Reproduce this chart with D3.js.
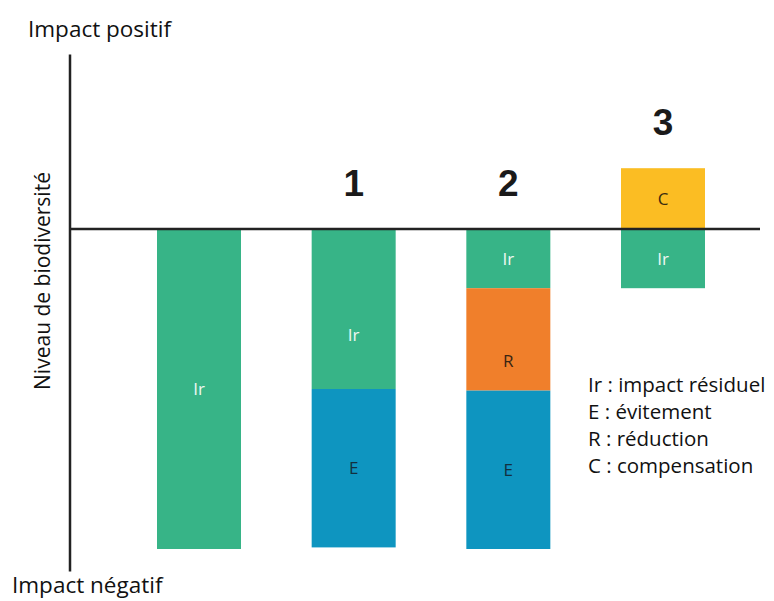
<!DOCTYPE html>
<html>
<head>
<meta charset="utf-8">
<script src="https://cdn.jsdelivr.net/npm/d3@7"></script>
<style>
  body { margin: 0; background: #fff; }
  svg text { font-family: "Open Sans", sans-serif; }
</style>
</head>
<body>
<div id="graphArea"></div>
<script>
// scenarios (0 = no measures, then 1, 2, 3)
var scenarios = ["0", "1", "2", "3"];
var scenarioLabels = ["", "1", "2", "3"];

// impact per component, in arbitrary units (negative = loss of biodiversity)
var irValues = [-10, -5, -1.85, -1.85];
var rValues  = [0, 0, -3.2, 0];
var eValues  = [0, -4.95, -4.95, 0];
var cValues  = [0, 0, 0, 1.9];

var keys = ["Ir", "R", "E", "C"];
var colors = { Ir: "#37b487", R: "#f07f2b", E: "#0e95c0", C: "#fbbd23" };
var textColors = { Ir: "#eef8f2", R: "#3a2412", E: "#13303f", C: "#3a2a10" };

var legendLines = ["Ir : impact résiduel", "E : évitement", "R : réduction", "C : compensation"];

var data = scenarios.map(function(s, i) {
  return { scenario: s, Ir: irValues[i], R: rValues[i], E: eValues[i], C: cValues[i] };
});

var width = 774, height = 601;

d3.select("#graphArea").html("");
var svg = d3.select("#graphArea")
  .append("svg")
    .attr("width", width)
    .attr("height", height);

var x = d3.scalePoint()
  .domain(scenarios)
  .range([199, 663]);
var barWidth = 84;

var y = d3.scaleLinear()
  .domain([-10, 0])
  .range([549, 229]);

var series = d3.stack()
  .keys(keys)
  .offset(d3.stackOffsetDiverging)(data);

// bars
svg.append("g")
  .selectAll("g")
  .data(series)
  .enter()
  .append("g")
    .attr("fill", function(d) { return colors[d.key]; })
  .selectAll("rect")
  .data(function(d) { return d; })
  .enter()
  .append("rect")
    .attr("x", function(d) { return x(d.data.scenario) - barWidth / 2; })
    .attr("y", function(d) { return y(Math.max(d[0], d[1])); })
    .attr("width", barWidth)
    .attr("height", function(d) { return Math.abs(y(d[0]) - y(d[1])); });

// segment labels
var labelNudge = { "1-Ir": 26, "2-R": 22 };
series.forEach(function(s) {
  s.forEach(function(d) {
    if (d[1] - d[0] === 0) return;
    var nudge = labelNudge[d.data.scenario + "-" + s.key] || 0;
    svg.append("text")
      .attr("x", x(d.data.scenario))
      .attr("y", (y(d[0]) + y(d[1])) / 2 + nudge)
      .attr("dy", "0.35em")
      .attr("text-anchor", "middle")
      .attr("fill", textColors[s.key])
      .style("font-size", "17px")
      .text(s.key);
  });
});

// axes
svg.append("line")
  .attr("x1", 70).attr("x2", 70)
  .attr("y1", y(5.45)).attr("y2", y(-10.7))
  .attr("stroke", "#222").attr("stroke-width", 2.5);
svg.append("line")
  .attr("x1", 70).attr("x2", 760)
  .attr("y1", y(0)).attr("y2", y(0))
  .attr("stroke", "#222").attr("stroke-width", 2.5);

// scenario numbers above the bars
var tops = data.map(function(d) { return Math.max(0, d.C); });
svg.selectAll("text.num")
  .data(data)
  .enter()
  .append("text")
    .attr("class", "num")
    .attr("x", function(d) { return x(d.scenario); })
    .attr("y", function(d, i) { return y(tops[i]) - 33; })
    .attr("text-anchor", "middle")
    .attr("fill", "#1a1a1a")
    .style("font-family", "'Liberation Sans', Arial, sans-serif")
    .style("font-weight", "bold")
    .style("font-size", "37px")
    .text(function(d, i) { return scenarioLabels[i]; });

// axis texts
svg.append("text")
  .attr("x", 28).attr("y", 37)
  .attr("fill", "#111")
  .style("font-size", "22.5px")
  .text("Impact positif");
svg.append("text")
  .attr("x", 12).attr("y", 593)
  .attr("fill", "#111")
  .style("font-size", "22.5px")
  .text("Impact négatif");
svg.append("text")
  .attr("transform", "translate(50,281)rotate(-90)")
  .attr("text-anchor", "middle")
  .attr("fill", "#111")
  .style("font-size", "21px")
  .text("Niveau de biodiversité");

// legend
svg.selectAll("text.leg")
  .data(legendLines)
  .enter()
  .append("text")
    .attr("class", "leg")
    .attr("x", 588)
    .attr("y", function(d, i) { return 392 + i * 27; })
    .attr("fill", "#111")
    .style("font-size", "20.5px")
    .text(function(d) { return d; });
</script>
</body>
</html>
